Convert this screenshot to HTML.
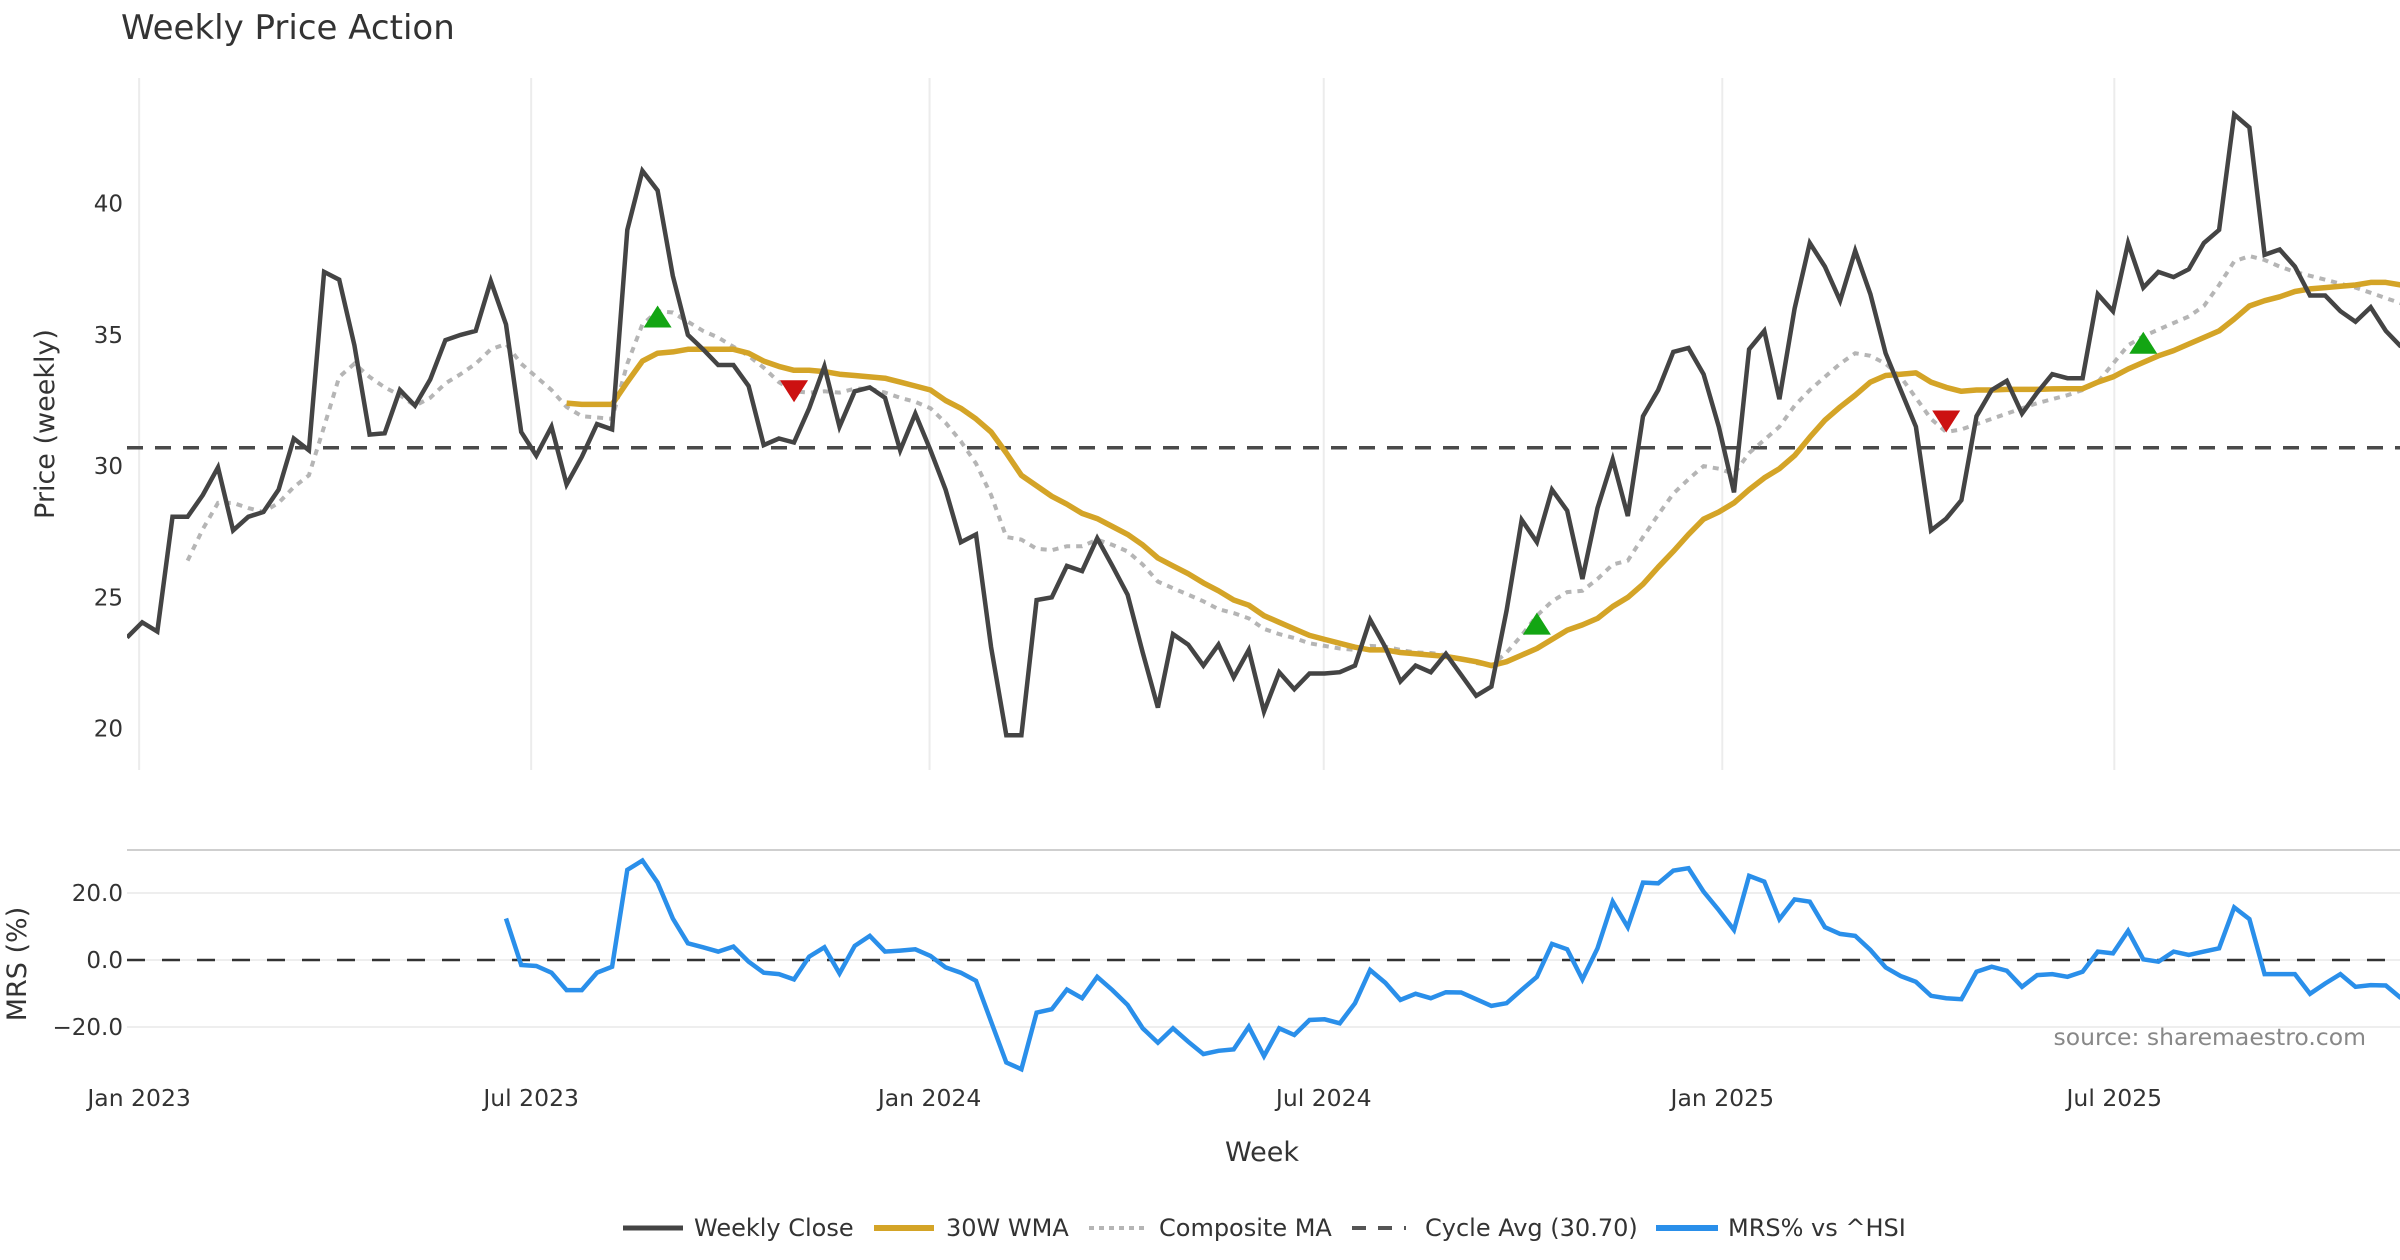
<!DOCTYPE html>
<html><head><meta charset="utf-8"><style>
html,body{margin:0;padding:0;background:#fff;}
svg{display:block;font-family:"DejaVu Sans","Liberation Sans",sans-serif;}
</style></head><body>
<svg id="chart" width="2400" height="1260" viewBox="0 0 2400 1260" xmlns="http://www.w3.org/2000/svg">
<defs>
<clipPath id="clipP"><rect x="127" y="70" width="2273" height="710"/></clipPath>
<clipPath id="clipM"><rect x="127" y="851" width="2273" height="230"/></clipPath>
</defs>
<text x="121" y="39" font-size="34" fill="#333">Weekly Price Action</text>
<g id="grid"></g>
<g id="series"></g>
<text transform="translate(54,424) rotate(-90)" text-anchor="middle" font-size="27" fill="#333">Price (weekly)</text>
<text transform="translate(26,964) rotate(-90)" text-anchor="middle" font-size="27" fill="#333">MRS (%)</text>
<text x="1262" y="1161" text-anchor="middle" font-size="27" fill="#333">Week</text>
<text x="2366" y="1045" text-anchor="end" font-size="23.5" fill="#888">source: sharemaestro.com</text>
<g font-size="24" fill="#333">
<line x1="623" y1="1228" x2="683" y2="1228" stroke="#444" stroke-width="5"/>
<text x="694" y="1236">Weekly Close</text>
<line x1="874" y1="1228" x2="934" y2="1228" stroke="#d4a427" stroke-width="6"/>
<text x="946" y="1236">30W WMA</text>
<line x1="1089" y1="1228" x2="1145" y2="1228" stroke="#b5b5b5" stroke-width="4" stroke-dasharray="5,5"/>
<text x="1159" y="1236">Composite MA</text>
<line x1="1352" y1="1228" x2="1406" y2="1228" stroke="#555" stroke-width="4" stroke-dasharray="14,12"/>
<text x="1425" y="1236">Cycle Avg (30.70)</text>
<line x1="1656" y1="1228" x2="1718" y2="1228" stroke="#2a8fea" stroke-width="6"/>
<text x="1728" y="1236">MRS% vs ^HSI</text>
</g>
</svg>
<script>
const closeVals=[23.47,24.05,23.7,28.07,28.07,28.9,29.95,27.55,28.07,28.25,29.1,31.05,30.6,37.4,37.1,34.6,31.2,31.25,32.9,32.3,33.3,34.8,35.0,35.15,37.05,35.4,31.3,30.4,31.5,29.3,30.35,31.6,31.4,39.0,41.25,40.5,37.25,35.0,34.45,33.85,33.85,33.05,30.8,31.05,30.9,32.2,33.8,31.5,32.85,33.0,32.6,30.6,32.0,30.6,29.1,27.1,27.4,23.1,19.75,19.75,24.9,25.0,26.2,26.0,27.25,26.2,25.1,22.9,20.8,23.6,23.2,22.4,23.2,21.95,23.0,20.65,22.15,21.5,22.1,22.1,22.15,22.4,24.15,23.1,21.8,22.4,22.15,22.85,22.05,21.25,21.6,24.5,27.95,27.1,29.1,28.3,25.7,28.4,30.25,28.1,31.9,32.9,34.35,34.5,33.5,31.5,29.0,34.45,35.15,32.55,36.0,38.5,37.6,36.3,38.2,36.55,34.3,32.9,31.5,27.55,28.0,28.7,31.9,32.9,33.25,32.0,32.8,33.5,33.35,33.35,36.55,35.9,38.5,36.8,37.4,37.2,37.5,38.5,39.0,43.4,42.9,38.05,38.25,37.6,36.5,36.5,35.9,35.5,36.05,35.15,34.55];
const wmaStart=29;
const wmaVals=[32.4,32.35,32.35,32.35,33.2,34.0,34.3,34.35,34.45,34.45,34.45,34.45,34.3,34.0,33.8,33.65,33.65,33.6,33.5,33.45,33.4,33.35,33.2,33.05,32.9,32.5,32.2,31.8,31.3,30.5,29.65,29.25,28.85,28.55,28.2,28.0,27.7,27.4,27.0,26.5,26.2,25.9,25.55,25.25,24.9,24.7,24.3,24.05,23.8,23.55,23.4,23.25,23.1,23.0,23.0,22.9,22.85,22.8,22.75,22.65,22.55,22.4,22.55,22.8,23.05,23.4,23.75,23.95,24.2,24.65,25.0,25.5,26.15,26.75,27.4,27.98,28.25,28.6,29.1,29.55,29.9,30.4,31.1,31.75,32.25,32.7,33.2,33.45,33.5,33.55,33.2,33.0,32.85,32.9,32.9,32.92,32.92,32.92,32.94,32.95,32.95,33.2,33.4,33.7,33.95,34.2,34.4,34.65,34.9,35.15,35.6,36.1,36.3,36.45,36.65,36.75,36.8,36.85,36.9,37.0,37.0,36.9];
const compStart=4;
const compVals=[26.4,27.6,28.6,28.6,28.4,28.25,28.6,29.2,29.65,31.5,33.4,33.9,33.4,33.0,32.7,32.3,32.6,33.15,33.5,33.9,34.45,34.65,33.9,33.4,32.9,32.25,31.9,31.85,31.8,33.9,35.4,35.9,35.85,35.5,35.15,34.9,34.55,34.2,33.75,33.2,32.85,32.8,32.85,32.8,32.95,32.95,32.8,32.6,32.45,32.2,31.65,30.95,30.1,28.9,27.3,27.2,26.85,26.8,26.95,26.95,27.2,27.0,26.75,26.25,25.6,25.35,25.1,24.85,24.55,24.4,24.2,23.8,23.6,23.45,23.25,23.15,23.05,23.0,23.15,23.12,23.0,22.9,22.88,22.8,22.65,22.5,22.4,22.9,23.55,24.3,24.85,25.2,25.25,25.7,26.25,26.4,27.3,28.15,28.95,29.5,30.0,29.9,29.7,30.5,31.0,31.5,32.3,32.9,33.4,33.9,34.3,34.2,33.9,33.4,32.6,31.8,31.3,31.4,31.6,31.8,32.0,32.2,32.4,32.55,32.7,32.9,33.2,33.9,34.6,34.95,35.2,35.45,35.7,36.1,36.9,37.8,38.0,37.85,37.6,37.4,37.25,37.1,36.95,36.8,36.6,36.4,36.2];
const mrsStart=25;
const mrsVals=[12.4,-1.5,-1.8,-3.8,-9.0,-9.0,-3.8,-2.0,26.9,29.7,23.1,12.4,5.0,3.8,2.5,4.0,-0.5,-3.8,-4.2,-5.8,1.0,3.8,-4.0,4.2,7.2,2.5,2.8,3.2,1.2,-2.2,-3.8,-6.2,-18.4,-30.6,-32.6,-15.7,-14.7,-8.8,-11.4,-5.0,-9.0,-13.4,-20.4,-24.7,-20.4,-24.4,-28.1,-27.1,-26.7,-19.9,-28.7,-20.4,-22.4,-17.9,-17.7,-18.9,-12.9,-3.0,-6.8,-11.9,-10.1,-11.4,-9.6,-9.7,-11.7,-13.7,-12.9,-8.9,-5.0,4.8,3.2,-5.8,3.5,17.4,9.8,23.1,22.9,26.7,27.4,20.4,14.9,9.0,25.1,23.4,12.2,18.1,17.4,9.8,7.8,7.2,3.0,-2.2,-4.8,-6.5,-10.7,-11.4,-11.7,-3.5,-2.0,-3.2,-8.0,-4.5,-4.2,-5.0,-3.5,2.5,2.0,8.7,0.2,-0.5,2.5,1.5,2.5,3.5,15.7,12.2,-4.2,-4.2,-4.2,-10.1,-7.0,-4.2,-8.0,-7.5,-7.6,-11.4];
const cycleAvg=30.70;
const buyIdx=[35,93,133];
const buyVals=[35.7,24.0,34.7];
const sellIdx=[44,120];
const sellVals=[32.85,31.7];
const xTickLabels=["Jan 2023","Jul 2023","Jan 2024","Jul 2024","Jan 2025","Jul 2025"];
const xTickIdx=[0.8,26.66,52.94,78.94,105.23,131.09];
const priceTicks=[20,25,30,35,40];
const mrsTicks=[-20,0,20];

const NS="http://www.w3.org/2000/svg";
const X=i=>127+(i)*15.16;
const Yp=v=>728.6-(v-20)*26.25;
const Ym=v=>960-v*3.35;
function mk(tag,attrs,parent){const e=document.createElementNS(NS,tag);for(const k in attrs)e.setAttribute(k,attrs[k]);parent.appendChild(e);return e;}
const grid=document.getElementById('grid');
const ser=document.getElementById('series');

xTickIdx.forEach((t,k)=>{
  const gl=mk('line',{x1:X(t),x2:X(t),y1:78,y2:770,stroke:'#ececec','stroke-width':2},grid);
  
  
  const tx=mk('text',{x:X(t),y:1106,'text-anchor':'middle','font-size':23.5,fill:'#333'},grid);
  tx.textContent=xTickLabels[k];
  
  
});
priceTicks.forEach(v=>{
  const tx=mk('text',{x:123,y:Yp(v)+8,'text-anchor':'end','font-size':23,fill:'#333'},grid);
  tx.textContent=v;
  
  
});
const border=mk('line',{x1:127,x2:2400,y1:850,y2:850,stroke:'#cfcfcf','stroke-width':2},grid);


mrsTicks.forEach(v=>{
  const gl=mk('line',{x1:127,x2:2400,y1:Ym(v),y2:Ym(v),stroke:'#eeeeee','stroke-width':2},grid);
  
  
  const tx=mk('text',{x:123,y:Ym(v)+8,'text-anchor':'end','font-size':23,fill:'#333'},grid);
  tx.textContent=(v<0?'\u2212':'')+Math.abs(v).toFixed(1);
  
  
});

function pts(vals,start,Y){return vals.map((v,k)=>X(start+k).toFixed(1)+','+Y(v).toFixed(1)).join(' ');}

const cyc=mk('line',{x1:127,x2:2400,y1:Yp(cycleAvg),y2:Yp(cycleAvg),stroke:'#4a4a4a','stroke-width':3.5,'stroke-dasharray':'16,12'},ser);



const comp=mk('polyline',{points:pts(compVals,compStart,Yp),fill:'none',stroke:'#b5b5b5','stroke-width':4,'stroke-dasharray':'6,6','clip-path':'url(#clipP)'},ser);



const wma=mk('polyline',{points:pts(wmaVals,wmaStart,Yp),fill:'none',stroke:'#d4a427','stroke-width':5.5,'stroke-linejoin':'round','clip-path':'url(#clipP)'},ser);



const cl=mk('polyline',{points:pts(closeVals,0,Yp),fill:'none',stroke:'#444','stroke-width':4.5,'stroke-linejoin':'miter','clip-path':'url(#clipP)'},ser);



buyIdx.forEach((i,k)=>{
  const x=X(i),y=Yp(buyVals[k]);
  const t=mk('polygon',{points:`${x-14},${y+11} ${x+14},${y+11} ${x},${y-11}`,fill:'#13a513'},ser);
  
  
});
sellIdx.forEach((i,k)=>{
  const x=X(i),y=Yp(sellVals[k]);
  const t=mk('polygon',{points:`${x-14},${y-11} ${x+14},${y-11} ${x},${y+11}`,fill:'#cc1111'},ser);
  
  
});

const z=mk('line',{x1:127,x2:2400,y1:Ym(0),y2:Ym(0),stroke:'#333','stroke-width':2.5,'stroke-dasharray':'18,17'},ser);


const mrs=mk('polyline',{points:pts(mrsVals,mrsStart,Ym),fill:'none',stroke:'#2a8fea','stroke-width':4.5,'stroke-linejoin':'miter','clip-path':'url(#clipM)'},ser);


</script>
</body></html>
